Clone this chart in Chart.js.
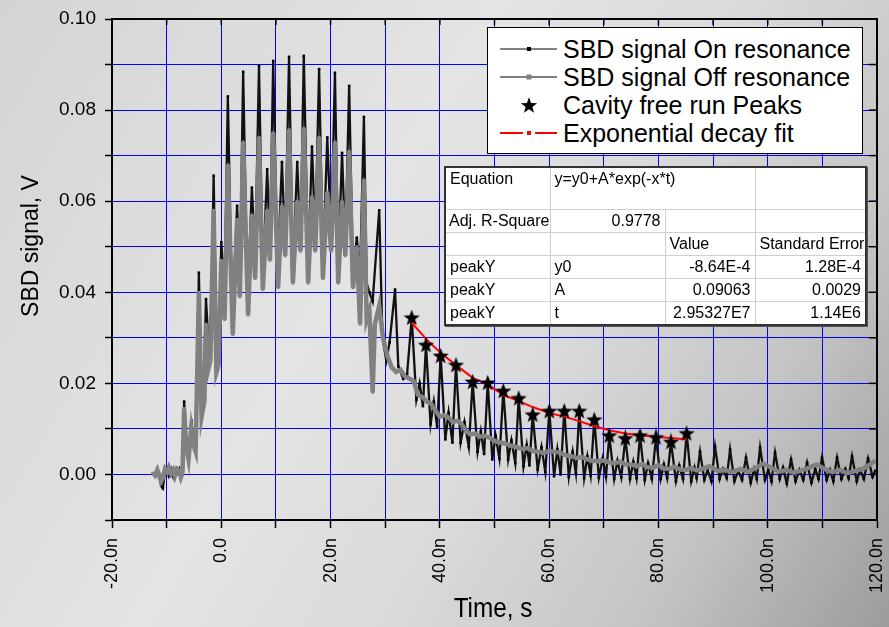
<!DOCTYPE html>
<html>
<head>
<meta charset="utf-8">
<script src="https://cdn.jsdelivr.net/npm/chart.js@4.4.0/dist/chart.umd.min.js"></script>
<style>
html,body{margin:0;padding:0;overflow:hidden;}
#wrap{position:relative;width:889px;height:627px;
 background:linear-gradient(120deg,#d4d4d4 0%,#e4e4e4 40%,#dadada 60%,#c4c4c4 80%,#9c9c9c 100%);
 font-family:'Liberation Sans',Arial,sans-serif;}
#c{position:absolute;left:0;top:0;}
#legend{position:absolute;left:487px;top:27px;width:376px;height:127px;box-sizing:border-box;
 border:1.5px solid #000;background:#fff;padding-top:7px;}
.lr{position:relative;height:28px;}
.lr svg{position:absolute;left:12px;top:4px;}
.lr span{position:absolute;left:75px;top:0px;font-size:25px;line-height:28px;color:#000;white-space:nowrap;}
#tbl{position:absolute;left:444px;top:166px;border-collapse:collapse;table-layout:fixed;width:421px;
 background:#fff;border:2px solid #333;box-shadow:1px 1px 0 #555;font-size:16px;color:#000;}
#tbl td{border:1.5px solid #cfcfcf;padding:0 4px;white-space:nowrap;overflow:hidden;height:22px;line-height:18px;}
#tbl td.r{text-align:right;}
#tbl tr.first td{height:39px;vertical-align:top;padding-top:2px;}
</style>
</head>
<body>
<div id="wrap">
<canvas id="c" width="889" height="627"></canvas>
<div id="legend">
 <div class="lr"><svg width="58" height="20"><line x1="0" y1="10" x2="57" y2="10" stroke="#000" stroke-width="1"/><rect x="27" y="8" width="4" height="4" fill="#000"/></svg><span>SBD signal On resonance</span></div>
 <div class="lr"><svg width="58" height="20"><line x1="0" y1="10" x2="57" y2="10" stroke="#808080" stroke-width="2"/><rect x="26.5" y="7.5" width="5" height="5" fill="#808080"/></svg><span>SBD signal Off resonance</span></div>
 <div class="lr"><svg width="58" height="20"><polygon id="lstar" fill="#000" points=""/></svg><span>Cavity free run Peaks</span></div>
 <div class="lr"><svg width="58" height="20"><line x1="0" y1="10" x2="23" y2="10" stroke="#f00" stroke-width="2"/><rect x="27" y="8" width="4" height="4" fill="#f00"/><line x1="35" y1="10" x2="57" y2="10" stroke="#f00" stroke-width="2"/></svg><span>Exponential decay fit</span></div>
</div>
<table id="tbl">
<colgroup><col style="width:105px"><col style="width:115px"><col style="width:90px"><col style="width:111px"></colgroup>
<tr class="first"><td>Equation</td><td colspan="2">y=y0+A*exp(-x*t)</td><td></td></tr>
<tr><td style="padding-left:3px">Adj. R-Square</td><td class="r">0.9778</td><td></td><td></td></tr>
<tr><td></td><td></td><td>Value</td><td>Standard Error</td></tr>
<tr><td>peakY</td><td>y0</td><td class="r">-8.64E-4</td><td class="r">1.28E-4</td></tr>
<tr><td>peakY</td><td>A</td><td class="r">0.09063</td><td class="r">0.0029</td></tr>
<tr><td>peakY</td><td>t</td><td class="r">2.95327E7</td><td class="r">1.14E6</td></tr>
</table>
</div>
<script>
// ---- data (time in ns, signal in V) ----
const onT = [-12.5,-12.1,-11.7,-11.4,-11.0,-10.7,-10.3,-9.9,-9.6,-9.2,-8.8,-8.5,-8.1,-7.7,-7.4,-7.1,
 -6.8,-6.4,-6.0,-5.5,-5.1,-4.7,-4.1,-3.7,-3.3,-2.8,-2.4,-2.0,-1.4,-0.9,-0.5,0.0,0.6,
 1.2,2.0,2.9,3.4, 4.0,4.8,5.6,6.2, 6.9,7.6,8.4,8.9, 9.5,10.3,11.1,11.7, 12.4,13.1,13.9,14.5,
 15.1,15.9,16.6,17.2, 17.9,18.6,19.4,20.1, 20.8,21.4,22.1,22.7, 23.4,24.1,24.8,25.4,
 26.1,26.6,27.1,27.7,28.9,29.5,30.2,30.8,31.8,32.4,33.3,34.0,
 34.85,35.7,36.3,36.9, 37.46,38.3,38.9,39.5, 40.15,41.0,41.6,42.3, 42.95,43.8,44.5,45.3,
 46.0,46.9,47.5,48.1, 48.76,49.6,50.2,50.9, 51.61,52.5,53.1,53.8, 54.43,55.3,55.9,56.4,
 56.99,57.9,58.6,59.3, 60.03,60.9,61.5,62.1, 62.77,63.6,64.3,64.9, 65.52,66.4,67.0,67.6,
 68.26,69.1,69.8,70.4, 71.01,71.9,72.5,73.2, 73.94,74.8,75.4,76.0, 76.63,77.5,78.1,78.8,
 79.56,80.4,81.0,81.6, 82.30,83.2,83.8,84.5, 85.17,86.0,86.6,87.0,
 87.61,88.4,89.0,89.7, 90.36,91.2,91.8,92.5, 93.11,93.9,94.6,95.3, 96.03,96.9,97.5,98.0,
 98.6,99.5,100.1,100.7, 101.34,102.2,102.8,103.5, 104.27,105.1,105.8,106.5, 107.2,108.0,108.7,109.3,
 109.94,110.8,111.4,112.0, 112.69,113.5,114.2,114.8, 115.43,116.3,116.9,117.6, 118.36,119.2,119.7];
const onV = [0.0002,0.0000,0.0008,-0.0004,-0.0025,-0.0030,0.0005,0.0010,-0.0003,0.0012,-0.0005,0.0010,0.0002,0.0012,-0.0008,0.0000,
 0.0160,0.0070,0.0045,0.0120,0.0075,0.0060,0.0443,0.0200,0.0150,0.0385,0.0300,0.0250,0.0656,0.0300,0.0250,0.0510,0.0400,
 0.0830,0.0340,0.0590,0.0420, 0.0884,0.0385,0.0630,0.0470, 0.0897,0.0435,0.0670,0.0500, 0.0908,0.0445,0.0686,0.0500,
 0.0917,0.0450,0.0686,0.0510, 0.0919,0.0455,0.0720,0.0520, 0.0890,0.0460,0.0740,0.0520, 0.0882,0.0455,0.0706,0.0500,
 0.0853,0.0440,0.0520,0.0440,
 0.0785,0.0420,0.0400,0.0380,0.0580,0.0300,0.0250,0.0290,0.0406,0.0237,0.0210,0.0220,
 0.0345,0.0164,0.0200,0.0150, 0.0285,0.0110,0.0160,0.0105, 0.0261,0.0077,0.0136,0.0070, 0.0241,0.0070,0.0115,0.0060,
 0.0204,0.0050,0.0095,0.0045, 0.0202,0.0033,0.0085,0.0035, 0.0184,0.0033,0.0075,0.0025, 0.0168,0.0018,0.0065,0.0020,
 0.0132,0.0011,0.0060,0.0005, 0.0140,-0.0004,0.0055,0.0000, 0.0140,-0.0005,0.0050,0.0002, 0.0140,-0.0008,0.0040,-0.0002,
 0.0121,-0.0007,0.0035,-0.0005, 0.0086,-0.0010,0.0030,-0.0006, 0.0080,-0.0010,0.0028,-0.0008, 0.0086,-0.0012,0.0025,-0.0010,
 0.0082,-0.0010,0.0022,-0.0008, 0.0072,-0.0015,0.0020,-0.0010, 0.0091,-0.0015,0.0015,-0.0008,
 0.0050,-0.0012,0.0010,-0.0015, 0.0061,-0.0010,0.0012,-0.0008, 0.0055,-0.0015,0.0008,-0.0012, 0.0037,-0.0018,0.0012,-0.0010,
 0.0059,-0.0012,0.0010,-0.0015, 0.0048,-0.0010,0.0015,-0.0020, 0.0033,-0.0015,0.0010,-0.0012, 0.0026,-0.0018,0.0012,-0.0010,
 0.0037,-0.0012,0.0010,-0.0015, 0.0037,-0.0010,0.0012,-0.0008, 0.0040,-0.0015,0.0010,-0.0010, 0.0035,-0.0005,0.0008];

const offT = [-12.5,-12.1,-11.7,-11.4,-11.0,-10.7,-10.3,-9.9,-9.6,-9.2,-8.8,-8.5,-8.1,-7.7,-7.4,-7.1,
 -6.8,-6.4,-6.0,-5.5,-5.1,-4.7,-4.1,-3.6,-3.1,-2.8,-2.4,-2.0,-1.4,-0.9,-0.5,0.0,0.6,
 1.2,2.1,2.9,3.4, 4.0,4.9,5.6,6.2, 6.9,7.6,8.4,8.9, 9.5,10.4,11.1,11.7, 12.4,13.1,13.9,14.5,
 15.1,15.9,16.6,17.2, 17.9,18.6,19.4,20.1, 20.8,21.4,22.1,22.7, 23.4,24.1,24.8,25.4,
 26.1,26.6,27.1,27.7,28.1,28.9,29.6,30.4,31.2,32.0,32.8,33.6,34.5,35.2,36.0,36.8,37.6,38.4,39.2,40.0,
 40.8,41.6,42.4,43.2,44.0,44.8,45.6,46.4,47.3,48.2,49.2,50.1,51.0,52.0,53.0,54.0,55.0,56.0,57.0,58.0,
 59.0,60.0,61.0,62.0,63.0,64.0,65.0,66.0,67.0,68.0,69.0,70.0,71.0,72.0,73.0,74.0,75.0,76.0,77.0,78.0,
 79.0,80.0,81.0,82.0,83.0,84.0,85.0,86.0,87.0,88.0,89.4,90.8,92.2,93.6,95.0,96.4,97.8,99.2,100.6,102.0,
 103.4,104.8,106.2,107.6,109.0,110.4,111.8,113.2,114.6,116.0,117.4,118.7,119.6];
const offV = [0.0003,-0.0002,0.0010,0.0000,-0.0015,-0.0008,0.0012,0.0005,0.0015,0.0002,0.0010,-0.0003,0.0012,0.0008,-0.0006,0.0005,
 0.0145,0.0060,0.0033,0.0100,0.0065,0.0050,0.0400,0.0127,0.0160,0.0330,0.0230,0.0250,0.0580,0.0224,0.0240,0.0470,0.0340,
 0.0680,0.0307,0.0560,0.0390, 0.0730,0.0350,0.0570,0.0430, 0.0740,0.0406,0.0580,0.0470, 0.0750,0.0410,0.0590,0.0480,
 0.0757,0.0420,0.0600,0.0490, 0.0760,0.0420,0.0610,0.0490, 0.0740,0.0430,0.0620,0.0490, 0.0730,0.0420,0.0600,0.0480,
 0.0710,0.0410,0.0500,0.0330,
 0.0647,0.0340,0.0360,0.0180,0.0330,0.0370,0.0300,0.0260,0.0235,0.0225,0.0230,0.0215,0.0210,0.0205,0.0175,0.0170,0.0160,0.0155,0.0140,0.0127,
 0.0130,0.0125,0.0115,0.0118,0.0110,0.0095,0.0088,0.0090,0.0083,0.0085,0.0080,0.0073,0.0070,0.0068,0.0063,0.0060,0.0056,0.0058,0.0052,0.0050,
 0.0047,0.0052,0.0050,0.0048,0.0042,0.0040,0.0036,0.0038,0.0033,0.0030,0.0029,0.0031,0.0026,0.0025,0.0028,0.0022,0.0022,0.0018,0.0023,0.0016,
 0.0015,0.0020,0.0013,0.0012,0.0017,0.0011,0.0010,0.0014,0.0009,0.0012,0.0018,0.0008,0.0010,0.0005,0.0012,0.0006,0.0014,0.0024,0.0015,0.0006,
 0.0010,0.0004,0.0009,0.0015,0.0022,0.0012,0.0005,0.0010,0.0003,0.0008,0.0012,0.0022,0.0030];

const peakT = [34.85,37.46,40.15,42.95,46.0,48.76,51.61,54.43,56.99,60.03,62.77,65.52,68.26,71.01,73.94,76.63,79.56,82.30,85.17];
const peakV = [0.0345,0.0285,0.0261,0.0241,0.0204,0.0202,0.0184,0.0168,0.0132,0.0140,0.0140,0.0140,0.0121,0.0086,0.0080,0.0086,0.0082,0.0072,0.0091];

const fitT = [34.85,37.59,40.34,43.08,46.01,48.76,51.61,54.43,56.99,60.03,62.77,65.52,68.26,71.01,73.94,76.63,79.56,82.30,85.17];
const fitV = [0.0333,0.0296,0.0265,0.0239,0.0212,0.0197,0.0175,0.0161,0.0148,0.0135,0.0127,0.0117,0.0106,0.0097,0.0090,0.0086,0.0083,0.0080,0.0077];

const xTickStep = 10, yTickStep = 0.01;

// ---- helpers ----
const zip = (a,b) => a.map((x,i)=>({x:x, y:b[i]}));
function starPts(cx,cy,R){const r=R*0.42,p=[];for(let i=0;i<10;i++){const a=-Math.PI/2+i*Math.PI/5,rr=i%2?r:R;p.push([cx+rr*Math.cos(a),cy+rr*Math.sin(a)]);}return p;}
function makeStar(size){const c=document.createElement('canvas');c.width=c.height=size;const g=c.getContext('2d');
 const p=starPts(size/2,size/2+0.8,size/2);g.beginPath();p.forEach(q=>g.lineTo(q[0],q[1]));g.closePath();g.fillStyle='#000';g.fill();return c;}
document.getElementById('lstar').setAttribute('points', starPts(29,10.8,8.5).map(q=>q.join(',')).join(' '));
const star = makeStar(17);

const frame = {
 id:'frame',
 afterDraw(chart){
  const {ctx, chartArea:a, scales} = chart;
  ctx.save();
  ctx.strokeStyle='#000'; ctx.lineWidth=2;
  ctx.strokeRect(a.left, a.top, a.right-a.left, a.bottom-a.top);
  ctx.lineWidth=1.5;
  scales.x.ticks.forEach(t=>{const x=scales.x.getPixelForValue(t.value);ctx.beginPath();ctx.moveTo(x,a.top);ctx.lineTo(x,a.top+6);ctx.stroke();});
  scales.y.ticks.forEach(t=>{const y=scales.y.getPixelForValue(t.value);ctx.beginPath();ctx.moveTo(a.right,y);ctx.lineTo(a.right-8,y);ctx.stroke();});
  ctx.fillStyle='#000';
  ctx.font="23px 'Liberation Sans', Arial, sans-serif";
  ctx.textAlign='center'; ctx.textBaseline='middle';
  ctx.save(); ctx.translate(32, 246); ctx.rotate(-Math.PI/2); ctx.fillText('SBD signal, V',0,0); ctx.restore();
  ctx.save(); ctx.translate(493, 610); ctx.scale(0.9,1);
  ctx.font="27px 'Liberation Sans', Arial, sans-serif";
  ctx.fillText('Time, s', 0, 0); ctx.restore();
  ctx.restore();
 }
};

new Chart(document.getElementById('c'), {
 type:'scatter',
 data:{datasets:[
  {label:'Cavity free run Peaks', data:zip(peakT,peakV), showLine:false, pointStyle:star, pointRadius:8, order:0},
  {label:'Exponential decay fit', data:zip(fitT,fitV), showLine:true, borderColor:'#ff0000', borderWidth:2, pointRadius:0, order:1},
  {label:'SBD signal Off resonance', data:zip(offT,offV), showLine:true, borderColor:'#808080', borderWidth:4.5,
   pointStyle:'rect', pointRadius:2, pointBackgroundColor:'#858585', pointBorderWidth:0, order:2},
  {label:'SBD signal On resonance', data:zip(onT,onV), showLine:true, borderColor:'#111', borderWidth:2.3,
   pointStyle:'rect', pointRadius:1.8, pointBackgroundColor:'#000', pointBorderWidth:0, order:3}
 ]},
 options:{
  responsive:false, animation:false, devicePixelRatio:1,
  layout:{padding:{top:19,right:12,left:0,bottom:0}},
  plugins:{legend:{display:false}, tooltip:{enabled:false}},
  scales:{
   x:{type:'linear', min:-20, max:120,
    afterFit(s){s.height=107; s.paddingLeft=0; s.paddingRight=0;},
    ticks:{stepSize:xTickStep, autoSkip:false, maxRotation:90, minRotation:90, padding:10, color:'#000',
     font:{family:"'Liberation Sans', Arial, sans-serif", size:18},
     callback(v){const r=Math.round(v); if(r%20!==0) return ''; return r===0?'0.0':r.toFixed(1)+'n';}},
    grid:{color:'#0000ff', lineWidth:1, tickLength:8, tickColor:'#000', tickWidth:1.5},
    border:{color:'#000', width:2}},
   y:{type:'linear', min:-0.01, max:0.10,
    afterFit(s){s.width=112; s.paddingTop=0; s.paddingBottom=0;},
    ticks:{stepSize:yTickStep, autoSkip:false, padding:9, color:'#000',
     font:{family:"'Liberation Sans', Arial, sans-serif", size:19},
     callback(v){const r=Math.round(v*100); if(r<0||r%2) return ''; return (r/100).toFixed(2);}},
    grid:{color:'#0000ff', lineWidth:1, tickLength:7, tickColor:'#000', tickWidth:1.5},
    border:{color:'#000', width:2}}
  }
 },
 plugins:[frame]
});
</script>
</body>
</html>
